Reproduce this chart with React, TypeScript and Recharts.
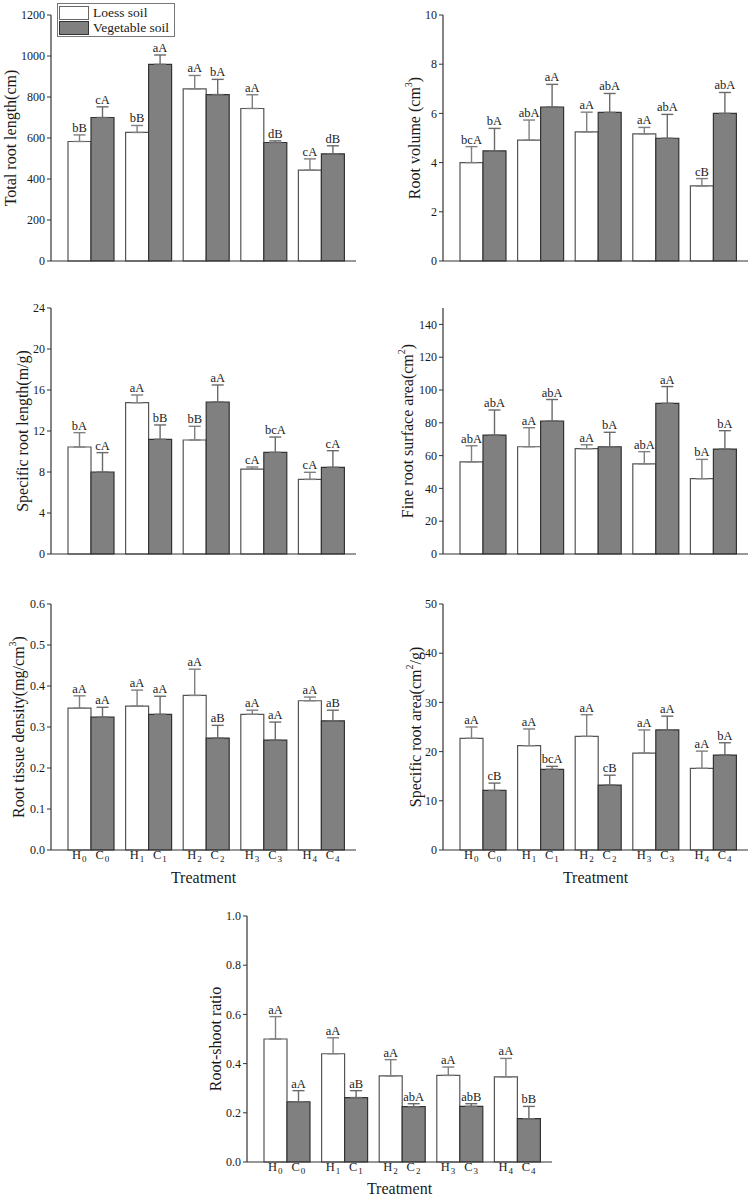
import React from 'react';
import { BarChart, Bar, XAxis, YAxis, ErrorBar, LabelList, Legend } from 'recharts';

const FONT = '"Liberation Serif", "Times New Roman", serif';

const groups = ['0', '1', '2', '3', '4'];
const seriesNames = ['Loess soil', 'Vegetable soil'];

// total root length (cm)
const lenLoess = [583, 627, 840, 744, 443];
const lenLoessErr = [32, 34, 65, 67, 55];
const lenVeg = [700, 959, 812, 578, 523];
const lenVegErr = [52, 46, 74, 8, 39];
const lenLoessSig = ['bB', 'bB', 'aA', 'aA', 'cA'];
const lenVegSig = ['cA', 'aA', 'bA', 'dB', 'dB'];

// root volume (cm3)
const volLoess = [4.0, 4.91, 5.25, 5.17, 3.05];
const volLoessErr = [0.65, 0.82, 0.8, 0.26, 0.3];
const volVeg = [4.48, 6.26, 6.04, 4.99, 6.0];
const volVegErr = [0.91, 0.92, 0.77, 0.97, 0.85];
const volLoessSig = ['bcA', 'abA', 'aA', 'aA', 'cB'];
const volVegSig = ['bA', 'aA', 'abA', 'abA', 'abA'];

// specific root length (m/g)
const srlLoess = [10.44, 14.76, 11.12, 8.29, 7.28];
const srlLoessErr = [1.4, 0.75, 1.34, 0.2, 0.69];
const srlVeg = [8.0, 11.19, 14.83, 9.92, 8.46];
const srlVegErr = [1.89, 1.4, 1.66, 1.49, 1.62];
const srlLoessSig = ['bA', 'aA', 'bB', 'cA', 'cA'];
const srlVegSig = ['cA', 'bB', 'aA', 'bcA', 'cA'];

// fine root surface area (cm2)
const fineLoess = [56.2, 65.4, 64.2, 55.0, 45.9];
const fineLoessErr = [9.8, 11.6, 2.4, 7.4, 11.8];
const fineVeg = [72.5, 81.1, 65.4, 91.9, 64.0];
const fineVegErr = [15.3, 13.1, 8.8, 10.2, 11.2];
const fineLoessSig = ['abA', 'aA', 'aA', 'abA', 'bA'];
const fineVegSig = ['abA', 'abA', 'bA', 'aA', 'bA'];

// root tissue density (mg/cm3)
const rtdLoess = [0.346, 0.351, 0.377, 0.331, 0.364];
const rtdLoessErr = [0.03, 0.039, 0.064, 0.01, 0.009];
const rtdVeg = [0.324, 0.331, 0.273, 0.268, 0.315];
const rtdVegErr = [0.024, 0.044, 0.031, 0.044, 0.026];
const rtdLoessSig = ['aA', 'aA', 'aA', 'aA', 'aA'];
const rtdVegSig = ['aA', 'aA', 'aB', 'aA', 'aB'];

// specific root area (cm2/g)
const sraLoess = [22.7, 21.2, 23.1, 19.7, 16.6];
const sraLoessErr = [2.3, 3.4, 4.4, 4.7, 3.5];
const sraVeg = [12.1, 16.4, 13.2, 24.4, 19.3];
const sraVegErr = [1.5, 0.6, 2.0, 2.8, 2.5];
const sraLoessSig = ['aA', 'aA', 'aA', 'aA', 'aA'];
const sraVegSig = ['cB', 'bcA', 'cB', 'aA', 'bA'];

// root-shoot ratio
const rsLoess = [0.5, 0.44, 0.35, 0.352, 0.346];
const rsLoessErr = [0.091, 0.065, 0.066, 0.034, 0.075];
const rsVeg = [0.245, 0.262, 0.225, 0.226, 0.176];
const rsVegErr = [0.045, 0.028, 0.012, 0.011, 0.05];
const rsLoessSig = ['aA', 'aA', 'aA', 'aA', 'aA'];
const rsVegSig = ['aA', 'aB', 'abA', 'abB', 'bB'];

const buildRows = (a: number[], aErr: number[], b: number[], bErr: number[], aSig: string[], bSig: string[]) =>
  groups.map((g, i) => ({
    group: g,
    loess: a[i],
    loessErr: [0, aErr[i]],
    veg: b[i],
    vegErr: [0, bErr[i]],
    loessSig: i + '|' + aSig[i],
    vegSig: i + '|' + bSig[i],
  }));

// letter label sitting above the error bar cap
const sigLabel = (vals: number[], errs: number[]) => (props: any) => {
  const vb = props.viewBox && props.viewBox.width != null ? props.viewBox : props;
  const { x, y, width, height } = vb;
  const [idxStr, txt] = String(props.value).split('|');
  const i = Number(idxStr);
  const pxPerUnit = Math.abs(height) / vals[i];
  const capY = Math.min(y, y + height) - errs[i] * pxPerUnit;
  return (
    <text x={x + width / 2} y={capY - 3} textAnchor="middle" fontSize={12.5} fontFamily={FONT} fill="#1a1a1a">
      {txt}
    </text>
  );
};

const TreatmentTick = (props: any) => {
  const { x, y, payload } = props;
  const g = payload.value;
  return (
    <g fontFamily={FONT} fontSize={12.5} fill="#1a1a1a">
      <text x={x - 11.5} y={y + 9} textAnchor="middle">
        H<tspan fontSize={9} dx={1} dy={3}>{g}</tspan>
      </text>
      <text x={x + 11.5} y={y + 9} textAnchor="middle">
        C<tspan fontSize={9} dx={1} dy={3}>{g}</tspan>
      </text>
    </g>
  );
};

const treatmentTitle = (dy: number) => (props: any) => {
  const vb = props.viewBox;
  return (
    <text x={vb.x + vb.width / 2} y={vb.y + dy} textAnchor="middle" fontSize={16} fontFamily={FONT} fill="#1a1a1a">
      Treatment
    </text>
  );
};

const yTitle = (parts: React.ReactNode, dx: number) => (props: any) => {
  const vb = props.viewBox;
  const cx = vb.x + vb.width - dx;
  const cy = vb.y + vb.height / 2;
  return (
    <text
      x={cx}
      y={cy}
      transform={`rotate(-90 ${cx} ${cy})`}
      textAnchor="middle"
      dominantBaseline="central"
      fontSize={16}
      fontFamily={FONT}
      fill="#1a1a1a"
    >
      {parts}
    </text>
  );
};

const LegendBox = () => (
  <div
    style={{
      border: '1px solid #777',
      background: '#fff',
      padding: '1px 5px 1px 1px',
      fontFamily: FONT,
      fontSize: 13.5,
      lineHeight: '15px',
      color: '#1a1a1a',
    }}
  >
    {seriesNames.map((name, i) => (
      <div key={name} style={{ display: 'flex', alignItems: 'center', height: 15 }}>
        <span
          style={{
            display: 'inline-block',
            width: 30,
            height: 14,
            boxSizing: 'border-box',
            background: i === 0 ? '#fff' : '#808080',
            border: '1px solid ' + (i === 0 ? '#666' : '#333'),
            marginRight: 4,
          }}
        />
        {name}
      </div>
    ))}
  </div>
);

const sup = (base: string, s: string, tail: string) => (
  <>
    {base}
    <tspan dy={-6} fontSize={10}>{s}</tspan>
    <tspan dy={6}>{tail}</tspan>
  </>
);

interface PanelProps {
  left: number;
  top: number;
  rows: any[];
  a: number[];
  aErr: number[];
  b: number[];
  bErr: number[];
  domain: [number, number];
  ticks: number[];
  digits?: number;
  title: React.ReactNode;
  titleDx: number;
  treatmentDy?: number;
  legend?: boolean;
}

const Panel: React.FC<PanelProps> = ({ left, top, rows, a, aErr, b, bErr, domain, ticks, digits = 0, title, titleDx, treatmentDy, legend }) => (
  <div style={{ position: 'absolute', left: left - 50, top: top - 15 }}>
    <BarChart width={360} height={301} data={rows} margin={{ top: 15, right: 5, bottom: 0, left: 0 }} barGap={0} barSize={23}>
      <XAxis
        dataKey="group"
        padding={{ left: 11, right: 6 }}
        height={40}
        stroke="#333"
        axisLine={{ stroke: '#333', strokeWidth: 1.2 }}
        tickLine={false}
        tickSize={0}
        tickMargin={0}
        interval={0}
        tick={treatmentDy ? <TreatmentTick /> : false}
        label={treatmentDy ? { content: treatmentTitle(treatmentDy) } : undefined}
      />
      <YAxis
        width={50}
        domain={domain}
        ticks={ticks}
        interval={0}
        tickSize={4}
        stroke="#333"
        tickFormatter={(v: number) => v.toFixed(digits)}
        axisLine={{ stroke: '#333', strokeWidth: 1.2 }}
        tickLine={{ stroke: '#333' }}
        tick={{ fontSize: 12, fill: '#1a1a1a', fontFamily: FONT }}
        label={{ content: yTitle(title, titleDx) }}
      />
      {legend && (
        <Legend
          layout="vertical"
          align="center"
          verticalAlign="middle"
          content={<LegendBox />}
          wrapperStyle={{ left: 56, top: 3, width: 'auto', height: 'auto' }}
        />
      )}
      <Bar dataKey="loess" name={seriesNames[0]} fill="#ffffff" stroke="#555" strokeWidth={1.2} isAnimationActive={false}>
        <ErrorBar dataKey="loessErr" width={6} stroke="#808080" strokeWidth={1.4} />
        <LabelList dataKey="loessSig" content={sigLabel(a, aErr)} />
      </Bar>
      <Bar dataKey="veg" name={seriesNames[1]} fill="#808080" stroke="#333" strokeWidth={1.2} isAnimationActive={false}>
        <ErrorBar dataKey="vegErr" width={6} stroke="#6a6a6a" strokeWidth={1.4} />
        <LabelList dataKey="vegSig" content={sigLabel(b, bErr)} />
      </Bar>
    </BarChart>
  </div>
);

export default function App() {
  return (
    <div style={{ position: 'absolute', left: 0, top: 0, width: 750, height: 1199, background: '#fff' }}>
      <Panel
        left={51}
        top={15}
        rows={buildRows(lenLoess, lenLoessErr, lenVeg, lenVegErr, lenLoessSig, lenVegSig)}
        a={lenLoess}
        aErr={lenLoessErr}
        b={lenVeg}
        bErr={lenVegErr}
        domain={[0, 1200]}
        ticks={[0, 200, 400, 600, 800, 1000, 1200]}
        title="Total root length(cm)"
        titleDx={41}
        legend
      />
      <Panel
        left={443}
        top={15}
        rows={buildRows(volLoess, volLoessErr, volVeg, volVegErr, volLoessSig, volVegSig)}
        a={volLoess}
        aErr={volLoessErr}
        b={volVeg}
        bErr={volVegErr}
        domain={[0, 10]}
        ticks={[0, 2, 4, 6, 8, 10]}
        title={sup('Root volume (cm', '3', ')')}
        titleDx={29}
      />
      <Panel
        left={51}
        top={307.5}
        rows={buildRows(srlLoess, srlLoessErr, srlVeg, srlVegErr, srlLoessSig, srlVegSig)}
        a={srlLoess}
        aErr={srlLoessErr}
        b={srlVeg}
        bErr={srlVegErr}
        domain={[0, 24]}
        ticks={[0, 4, 8, 12, 16, 20, 24]}
        title="Specific root length(m/g)"
        titleDx={29}
      />
      <Panel
        left={443}
        top={307.5}
        rows={buildRows(fineLoess, fineLoessErr, fineVeg, fineVegErr, fineLoessSig, fineVegSig)}
        a={fineLoess}
        aErr={fineLoessErr}
        b={fineVeg}
        bErr={fineVegErr}
        domain={[0, 150]}
        ticks={[0, 20, 40, 60, 80, 100, 120, 140]}
        title={sup('Fine root surface area(cm', '2', ')')}
        titleDx={36}
      />
      <Panel
        left={51}
        top={604}
        rows={buildRows(rtdLoess, rtdLoessErr, rtdVeg, rtdVegErr, rtdLoessSig, rtdVegSig)}
        a={rtdLoess}
        aErr={rtdLoessErr}
        b={rtdVeg}
        bErr={rtdVegErr}
        domain={[0, 0.6]}
        ticks={[0, 0.1, 0.2, 0.3, 0.4, 0.5, 0.6]}
        digits={1}
        title={sup('Root tissue density(mg/cm', '3', ')')}
        titleDx={33}
        treatmentDy={33}
      />
      <Panel
        left={443}
        top={604}
        rows={buildRows(sraLoess, sraLoessErr, sraVeg, sraVegErr, sraLoessSig, sraVegSig)}
        a={sraLoess}
        aErr={sraLoessErr}
        b={sraVeg}
        bErr={sraVegErr}
        domain={[0, 50]}
        ticks={[0, 10, 20, 30, 40, 50]}
        title={sup('Specific root area(cm', '2', '/g)')}
        titleDx={28}
        treatmentDy={33}
      />
      <Panel
        left={247}
        top={916}
        rows={buildRows(rsLoess, rsLoessErr, rsVeg, rsVegErr, rsLoessSig, rsVegSig)}
        a={rsLoess}
        aErr={rsLoessErr}
        b={rsVeg}
        bErr={rsVegErr}
        domain={[0, 1]}
        ticks={[0, 0.2, 0.4, 0.6, 0.8, 1]}
        digits={1}
        title="Root-shoot ratio"
        titleDx={32}
        treatmentDy={32}
      />
    </div>
  );
}
